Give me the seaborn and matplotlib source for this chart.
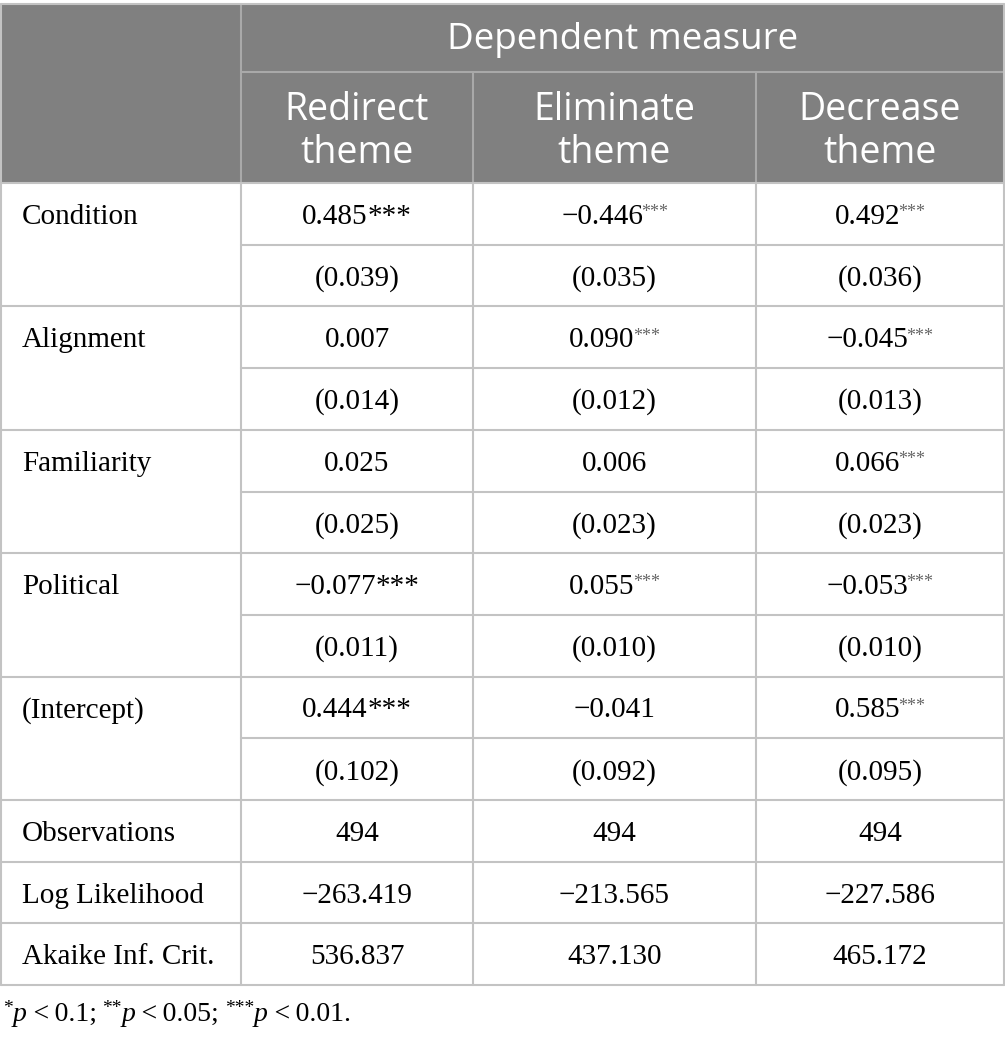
import matplotlib
matplotlib.use("Agg")
import matplotlib.pyplot as plt
import seaborn as sns

# table content
row_labels = ["Condition", "Alignment", "Familiarity", "Political", "(Intercept)"]
model_names = ["Redirect\ntheme", "Eliminate\ntheme", "Decrease\ntheme"]

redirect_coef = ["0.485", "0.007", "0.025", "\u22120.077", "0.444"]
redirect_stars = ["***", "", "", "***", "***"]
redirect_se = ["(0.039)", "(0.014)", "(0.025)", "(0.011)", "(0.102)"]

eliminate_coef = ["\u22120.446", "0.090", "0.006", "0.055", "\u22120.041"]
eliminate_stars = ["***", "***", "", "***", ""]
eliminate_se = ["(0.035)", "(0.012)", "(0.023)", "(0.010)", "(0.092)"]

decrease_coef = ["0.492", "\u22120.045", "0.066", "\u22120.053", "0.585"]
decrease_stars = ["***", "***", "***", "***", "***"]
decrease_se = ["(0.036)", "(0.013)", "(0.023)", "(0.010)", "(0.095)"]

stat_labels = ["Observations", "Log Likelihood", "Akaike Inf. Crit."]
redirect_stats = ["494", "\u2212263.419", "536.837"]
eliminate_stats = ["494", "\u2212213.565", "437.130"]
decrease_stats = ["494", "\u2212227.586", "465.172"]

# footnote pieces: (text, style)
footnote_parts = [("*", "sup"), ("p", "it"), (" < 0.1; ", "rm"),
                  ("**", "sup"), ("p", "it"), (" < 0.05; ", "rm"),
                  ("***", "sup"), ("p", "it"), (" < 0.01.", "rm")]

sns.set_theme(style="white")

SERIF = ["Liberation Serif", "DejaVu Serif"]
SANS = ["Open Sans", "DejaVu Sans"]

fig = plt.figure(figsize=(10.05, 10.39), dpi=100)
ax = fig.add_axes([0, 0, 1, 1])
ax.set_xlim(0, 1005)
ax.set_ylim(1039, 0)
ax.axis("off")

# layout (pixels)
col_edges = [1, 241, 473, 756, 1004]
top, hdr1, hdr2 = 4, 72, 183
row_h = 61.7
n_rows = 2 * len(row_labels) + len(stat_labels)
bottom = hdr2 + n_rows * row_h

header_grey = "#808080"
header_line = "#a9a9a9"
grid = "#c3c3c3"
lw = 1.5

# header background
ax.add_patch(plt.Rectangle((col_edges[0], top), col_edges[-1] - col_edges[0], hdr2 - top,
                           facecolor=header_grey, edgecolor="none", zorder=1))
ax.plot([col_edges[1], col_edges[-1]], [hdr1, hdr1], color=header_line, lw=lw, zorder=2)
ax.plot([col_edges[1], col_edges[1]], [top, hdr2], color=header_line, lw=lw, zorder=2)
for x in col_edges[2:-1]:
    ax.plot([x, x], [hdr1, hdr2], color=header_line, lw=lw, zorder=2)

ax.text((col_edges[1] + col_edges[-1]) / 2, (top + hdr1) / 2 + 2, "Dependent measure",
        ha="center", va="center", color="white", fontsize=26.5, family=SANS)
for i, name in enumerate(model_names):
    cx = (col_edges[i + 1] + col_edges[i + 2]) / 2
    ax.text(cx, (hdr1 + hdr2) / 2 + 4, name, ha="center", va="center", color="white",
            fontsize=27, family=SANS, linespacing=1.2)

# body grid
for r in range(n_rows + 1):
    y = hdr2 + r * row_h
    # merged label cells: no line in first column between coef and se rows
    if r < 2 * len(row_labels) and r % 2 == 1:
        ax.plot([col_edges[1], col_edges[-1]], [y, y], color=grid, lw=lw, zorder=2)
    else:
        ax.plot([col_edges[0], col_edges[-1]], [y, y], color=grid, lw=lw, zorder=2)
for x in col_edges:
    ax.plot([x, x], [hdr2, bottom], color=grid, lw=lw, zorder=2)
ax.plot([col_edges[0], col_edges[-1]], [top, top], color=grid, lw=lw, zorder=3)
for x in (col_edges[0], col_edges[-1]):
    ax.plot([x, x], [top, hdr2], color=grid, lw=lw, zorder=3)

body_fs = 21
dy = 3
coef_cols = [(redirect_coef, redirect_stars, redirect_se, "big"),
             (eliminate_coef, eliminate_stars, eliminate_se, "small"),
             (decrease_coef, decrease_stars, decrease_se, "small")]
stat_cols = [redirect_stats, eliminate_stats, decrease_stats]

pairs = []
for i, lab in enumerate(row_labels):
    yc = hdr2 + (2 * i + 0.5) * row_h + dy
    ax.text(22, yc, lab, ha="left", va="center", fontsize=body_fs, family=SERIF, color="black")
    for j, (coef, stars, se, kind) in enumerate(coef_cols):
        cx = (col_edges[j + 1] + col_edges[j + 2]) / 2
        t = ax.text(cx, yc, coef[i], ha="center", va="center", fontsize=body_fs,
                    family=SERIF, color="black")
        s = None
        if stars[i]:
            if kind == "big":
                s = ax.annotate(stars[i], xy=(1, 0.5), xycoords=t, ha="left", va="center",
                                fontsize=body_fs, family=SERIF, color="black")
            else:
                s = ax.annotate(stars[i], xy=(1, 0.66), xycoords=t, xytext=(-1.5, 0),
                                textcoords="offset points", ha="left", va="center",
                                fontsize=13, family=SERIF, color="#666666")
        pairs.append((t, s, cx))
        ax.text(cx, yc + row_h, se[i], ha="center", va="center", fontsize=body_fs,
                family=SERIF, color="black")

for k, lab in enumerate(stat_labels):
    yc = hdr2 + (2 * len(row_labels) + k + 0.5) * row_h + dy
    ax.text(22, yc, lab, ha="left", va="center", fontsize=body_fs, family=SERIF, color="black")
    for j, vals in enumerate(stat_cols):
        cx = (col_edges[j + 1] + col_edges[j + 2]) / 2
        ax.text(cx, yc, vals[k], ha="center", va="center", fontsize=body_fs,
                family=SERIF, color="black")

fig.canvas.draw()
renderer = fig.canvas.get_renderer()
inv = ax.transData.inverted()

# footnote, placed piece by piece along one baseline
base_y = bottom + 36
x = 3
for txt, style in footnote_parts:
    kw = dict(family=SERIF, color="black", va="baseline", ha="left")
    y = base_y
    if style == "sup":
        kw.update(fontsize=14)
        y = base_y - 8
    else:
        kw.update(fontsize=20)
    if style == "it":
        kw.update(style="italic")
    piece = ax.text(x, y, txt.replace(" ", "\u2009") if style == "rm" else txt, **kw)
    bb = piece.get_window_extent(renderer)
    x = inv.transform((bb.x1, 0))[0] + (1 if style == "it" else 0)

# centre number + stars together
for t, s, cx in pairs:
    if s is None:
        continue
    bt = t.get_window_extent(renderer)
    bs = s.get_window_extent(renderer)
    x0 = inv.transform((bt.x0, 0))[0]
    x1 = inv.transform((bs.x1, 0))[0]
    shift = cx - (x0 + x1) / 2
    px, py = t.get_position()
    t.set_position((px + shift, py))

fig.savefig("out.png", dpi=100, facecolor="white")
